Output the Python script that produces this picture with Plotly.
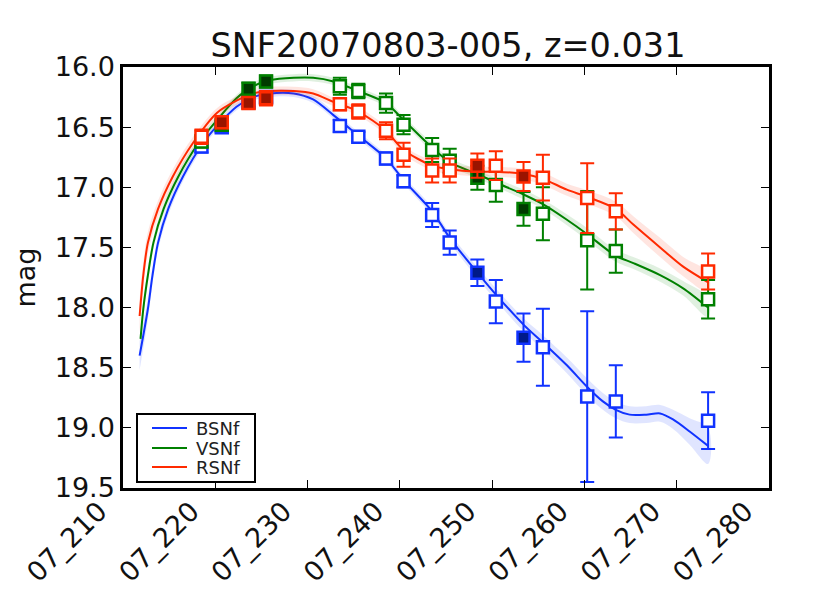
import plotly.graph_objects as go

# ---------------- data ----------------
title = "SNF20070803-005, z=0.031"
band_names = ["BSNf", "VSNf", "RSNf"]

x_tick_vals = [210, 220, 230, 240, 250, 260, 270, 280]
x_tick_text = ["07_210", "07_220", "07_230", "07_240", "07_250", "07_260", "07_270", "07_280"]
y_tick_vals = [16.0, 16.5, 17.0, 17.5, 18.0, 18.5, 19.0, 19.5]

# observation epochs (days) and filled/open flags
obs_day = [218.5, 220.7, 223.6, 225.5, 233.5, 235.5, 238.5, 240.4, 243.5, 245.4,
           248.4, 250.4, 253.4, 255.5, 260.3, 263.4, 273.4]
obs_filled = [False, True, True, True, False, False, False, False, False, False,
              True, False, True, False, False, False, False]

b_mag = [16.66, 16.50, 16.29, 16.25, 16.49, 16.58, 16.76, 16.95, 17.23, 17.46,
         17.71, 17.95, 18.25, 18.33, 18.74, 18.78, 18.94]
b_err = [0.05, 0.04, 0.04, 0.04, 0.05, 0.04, 0.05, 0.05, 0.10, 0.10,
         0.11, 0.18, 0.20, 0.32, 0.71, 0.30, 0.235]

v_mag = [16.62, 16.48, 16.18, 16.12, 16.16, 16.20, 16.30, 16.48, 16.69, 16.78,
         16.92, 16.98, 17.18, 17.22, 17.44, 17.53, 17.93]
v_err = [0.05, 0.04, 0.05, 0.05, 0.07, 0.06, 0.08, 0.08, 0.10, 0.10,
         0.10, 0.14, 0.14, 0.22, 0.41, 0.18, 0.16]

r_mag = [16.58, 16.46, 16.30, 16.26, 16.31, 16.37, 16.53, 16.73, 16.86, 16.86,
         16.82, 16.82, 16.91, 16.92, 17.09, 17.20, 17.70]
r_err = [0.06, 0.05, 0.05, 0.06, 0.05, 0.06, 0.07, 0.10, 0.10, 0.10,
         0.10, 0.12, 0.12, 0.19, 0.29, 0.15, 0.15]

# model curves
b_curve_day = [211.8, 212.7, 213.2, 213.8, 214.9, 216.5, 218.7, 220.2, 222.3, 224.1,
               225.9, 228.5, 230.6, 232.8, 235.5, 238.5, 240.4, 243.5, 245.4, 248.4,
               250.5, 253.5, 255.5, 258.1, 260.3, 262.0, 263.4, 264.9, 266.7, 268.2,
               269.6, 271.4, 273.4]
b_curve_mag = [18.40, 18.01, 17.73, 17.46, 17.18, 16.91, 16.63, 16.49, 16.33, 16.25,
               16.22, 16.22, 16.27, 16.40, 16.57, 16.76, 16.94, 17.20, 17.42, 17.71,
               17.90, 18.15, 18.29, 18.48, 18.66, 18.78, 18.85, 18.89, 18.89, 18.88,
               18.93, 19.03, 19.15]
b_curve_sig = [0.12, 0.09, 0.07, 0.06, 0.05, 0.04, 0.035, 0.03, 0.03, 0.03,
               0.03, 0.03, 0.03, 0.03, 0.03, 0.03, 0.03, 0.035, 0.04, 0.045,
               0.05, 0.055, 0.06, 0.065, 0.07, 0.07, 0.07, 0.07, 0.07, 0.07,
               0.08, 0.11, 0.15]

v_curve_day = [211.9, 212.2, 212.7, 213.3, 214.4, 216.0, 218.2, 220.2, 222.3, 224.1,
               225.9, 228.5, 230.6, 232.8, 235.5, 238.5, 240.4, 243.5, 245.4, 248.4,
               250.4, 253.4, 255.5, 258.1, 260.3, 263.4, 265.3, 268.2, 270.7, 273.4]
v_curve_mag = [18.26, 18.01, 17.73, 17.46, 17.18, 16.91, 16.63, 16.44, 16.26, 16.16,
               16.11, 16.09, 16.09, 16.12, 16.20, 16.30, 16.44, 16.67, 16.79, 16.89,
               16.96, 17.06, 17.14, 17.27, 17.39, 17.57, 17.63, 17.73, 17.84, 18.00]
v_curve_sig = [0.10, 0.08, 0.06, 0.05, 0.045, 0.04, 0.035, 0.03, 0.03, 0.03,
               0.03, 0.03, 0.03, 0.03, 0.03, 0.03, 0.03, 0.035, 0.035, 0.035,
               0.035, 0.04, 0.04, 0.045, 0.05, 0.05, 0.05, 0.055, 0.06, 0.08]

r_curve_day = [211.8, 212.2, 212.7, 213.8, 215.4, 217.6, 220.2, 222.3, 224.1, 225.9,
               228.5, 230.6, 232.8, 235.5, 238.5, 240.4, 243.5, 245.4, 248.4, 250.4,
               253.4, 255.5, 258.1, 260.3, 263.4, 265.3, 268.2, 270.7, 273.4]
r_curve_mag = [18.07, 17.73, 17.46, 17.18, 16.91, 16.63, 16.38, 16.28, 16.22, 16.20,
               16.20, 16.22, 16.29, 16.37, 16.53, 16.69, 16.82, 16.85, 16.87, 16.87,
               16.89, 16.93, 17.02, 17.08, 17.18, 17.31, 17.50, 17.66, 17.79]
r_curve_sig = [0.14, 0.11, 0.09, 0.07, 0.06, 0.05, 0.04, 0.035, 0.035, 0.035,
               0.035, 0.035, 0.035, 0.035, 0.035, 0.035, 0.04, 0.04, 0.04, 0.04,
               0.045, 0.05, 0.05, 0.055, 0.06, 0.07, 0.08, 0.08, 0.08]

# ---------------- styling ----------------
colors = {"BSNf": "#1133ff", "VSNf": "#008000", "RSNf": "#ff2a00"}
dark = {"BSNf": "#001a88", "VSNf": "#003a00", "RSNf": "#9a1400"}
bands = {"BSNf": "rgba(17,51,255,0.13)", "VSNf": "rgba(0,128,0,0.12)", "RSNf": "rgba(255,42,0,0.12)"}
FONT = "DejaVu Sans"

# page body adds an 8px offset; plot area target (window px)
OFF = 8
PL, PR, PT, PB = 123, 769, 67, 488
W = PR - PL
H = PB - PT
FIG_W, FIG_H = 831, 593

def px_x(p):
    return (p - PL) / W

def px_y(p):
    return (PB - p) / H

series = [
    ("BSNf", b_mag, b_err, b_curve_day, b_curve_mag, b_curve_sig),
    ("VSNf", v_mag, v_err, v_curve_day, v_curve_mag, v_curve_sig),
    ("RSNf", r_mag, r_err, r_curve_day, r_curve_mag, r_curve_sig),
]

fig = go.Figure()

for name, mag, err, cday, cmag, csig in series:
    c = colors[name]
    upper = [m - s for m, s in zip(cmag, csig)]
    lower = [m + s for m, s in zip(cmag, csig)]
    fig.add_trace(go.Scatter(
        x=cday + cday[::-1], y=upper + lower[::-1],
        fill="toself", fillcolor=bands[name], line=dict(width=0, shape="spline"),
        mode="lines", hoverinfo="skip", showlegend=False))
    fig.add_trace(go.Scatter(
        x=cday, y=cmag, mode="lines", name=name, showlegend=False,
        line=dict(color=c, width=2, shape="spline", smoothing=0.8)))

for name, mag, err, cday, cmag, csig in series:
    c = colors[name]
    face = [dark[name] if f else "white" for f in obs_filled]
    fig.add_trace(go.Scatter(
        x=obs_day, y=mag, mode="markers", showlegend=False,
        error_y=dict(type="data", array=err, color=c, thickness=2, width=7),
        marker=dict(symbol="square", size=12, color=face,
                    line=dict(color=c, width=2.5))))

fig.update_layout(
    width=FIG_W, height=FIG_H,
    margin=dict(l=PL - OFF, r=FIG_W + OFF - PR, t=PT - OFF, b=FIG_H + OFF - PB),
    paper_bgcolor="white", plot_bgcolor="white",
    font=dict(family=FONT, size=27, color="#111111"),
    title=dict(text=title, x=(448 - OFF) / FIG_W, xanchor="center",
               y=1 - (45 - OFF) / FIG_H, yanchor="middle",
               font=dict(family=FONT, size=33.5, color="#111111")),
    showlegend=False,
)
fig.update_xaxes(
    range=[210, 280], tickvals=x_tick_vals, ticktext=x_tick_text, tickangle=-45,
    ticks="inside", ticklen=8, tickwidth=1, tickcolor="black",
    showline=True, linecolor="black", linewidth=2.5, mirror="ticks",
    showgrid=False, zeroline=False, tickfont=dict(size=27), automargin=False,
    ticklabelshift=-24, ticklabelstandoff=-6)
fig.update_yaxes(
    range=[19.5, 16.0], tickvals=y_tick_vals, ticktext=[f"{v:.1f}" for v in y_tick_vals],
    ticks="inside", ticklen=8, tickwidth=1, tickcolor="black",
    showline=True, linecolor="black", linewidth=2.5, mirror="ticks",
    showgrid=False, zeroline=False, tickfont=dict(size=27), automargin=False,
    title=dict(text="mag", font=dict(size=27), standoff=12))

# legend drawn by hand (matplotlib-style compact box)
legend_rows_y = [428, 448, 467]
fig.add_shape(type="rect", xref="paper", yref="paper",
              x0=px_x(137), x1=px_x(255), y0=px_y(482), y1=px_y(414),
              fillcolor="white", line=dict(color="black", width=2), layer="above")
for name, ry in zip(band_names, legend_rows_y):
    fig.add_shape(type="line", xref="paper", yref="paper",
                  x0=px_x(152), x1=px_x(187), y0=px_y(ry), y1=px_y(ry),
                  line=dict(color=colors[name], width=2), layer="above")
    fig.add_annotation(xref="paper", yref="paper", x=px_x(194), y=px_y(ry),
                       text=name, showarrow=False, xanchor="left", yanchor="middle",
                       font=dict(family=FONT, size=18, color="#222222"))

fig.write_html("out.html")
